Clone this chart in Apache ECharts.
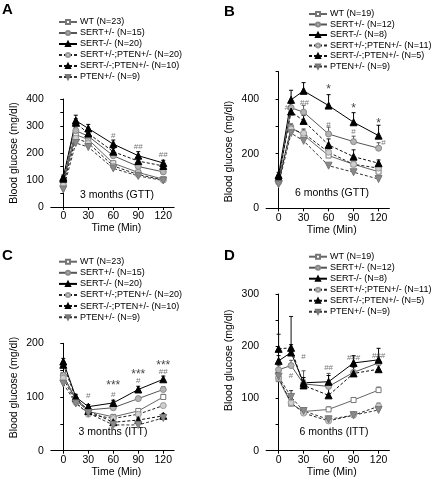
<!DOCTYPE html>
<html><head><meta charset="utf-8">
<script src="https://cdn.jsdelivr.net/npm/echarts@6.0.0/dist/echarts.min.js"></script>
<style>html,body{margin:0;padding:0;background:#fff}#c{width:431px;height:480px}</style>
</head><body><div id="c"></div>
<script>
// ---------- data ----------
const times = [0, 15, 30, 60, 90, 120];
const xTickLabels = [0, 30, 60, 90, 120];

const namesAC = ['WT (N=23)', 'SERT+/- (N=15)', 'SERT-/- (N=20)', 'SERT+/-;PTEN+/- (N=20)', 'SERT-/-;PTEN+/- (N=10)', 'PTEN+/- (N=9)'];
const namesBD = ['WT (N=19)', 'SERT+/- (N=12)', 'SERT-/- (N=8)', 'SERT+/-;PTEN+/- (N=11)', 'SERT-/-;PTEN+/- (N=5)', 'PTEN+/- (N=9)'];

// Panel A: 3 months GTT
const aWT = [90, 268, 250, 162, 128, 103];
const aSERThet = [95, 283, 262, 190, 150, 130];
const aSERTko = [110, 320, 291, 233, 190, 163];
const aSERThetPTEN = [80, 255, 237, 152, 120, 100];
const aSERTkoPTEN = [105, 312, 272, 205, 170, 152];
const aPTEN = [65, 237, 222, 143, 115, 98];
const aWTerr = [5, 10, 10, 8, 6, 5];
const aSERThetErr = [5, 10, 10, 8, 8, 6];
const aSERTkoErr = [8, 20, 15, 15, 15, 10];
const aSERThetPTENerr = [5, 10, 10, 8, 6, 5];
const aSERTkoPTENerr = [8, 15, 12, 12, 12, 8];
const aPTENerr = [5, 8, 8, 6, 5, 5];
const aMarks = [[60, 262, '#'], [90, 222, '##'], [120, 193, '##']];

// Panel B: 6 months GTT
const bWT = [100, 295, 268, 193, 161, 134];
const bSERThet = [105, 368, 352, 272, 244, 220];
const bSERTko = [122, 397, 430, 376, 315, 266];
const bSERThetPTEN = [95, 290, 275, 205, 161, 147];
const bSERTkoPTEN = [112, 354, 320, 232, 189, 165];
const bPTEN = [88, 275, 247, 156, 132, 107];
const bWTerr = [8, 15, 12, 10, 10, 10];
const bSERThetErr = [8, 15, 25, 25, 20, 20];
const bSERTkoErr = [10, 35, 30, 40, 35, 38];
const bSERThetPTENerr = [8, 15, 15, 12, 10, 10];
const bSERTkoPTENerr = [10, 20, 20, 22, 25, 12];
const bPTENerr = [5, 10, 10, 8, 8, 8];
const bMarks = [[10, 368, '#'], [31, 388, '##'], [60, 433, '*'], [60, 307, '#'], [90, 366, '*'], [90, 280, '#'], [120, 311, '*'], [126, 240, '#']];

// Panel C: 3 months ITT
const cWT = [141, 94, 73, 63, 74, 100];
const cSERThet = [140, 96, 76, 80, 97, 114];
const cSERTko = [166, 100, 82, 89, 114, 133];
const cSERThetPTEN = [135, 90, 68, 60, 68, 84];
const cSERTkoPTEN = [160, 98, 74, 53, 57, 65];
const cPTEN = [125, 88, 70, 48, 48, 61];
const cWTerr = [4, 3, 3, 3, 4, 5];
const cSERThetErr = [4, 3, 3, 4, 4, 5];
const cSERTkoErr = [6, 5, 4, 5, 6, 6];
const cSERThetPTENerr = [4, 3, 3, 3, 4, 4];
const cSERTkoPTENerr = [5, 4, 3, 4, 4, 4];
const cPTENerr = [4, 3, 3, 3, 3, 3];
const cMarks = [[30, 102, '#'], [60, 121, '***'], [60, 105, '#'], [90, 141, '***'], [90, 130, '#'], [120, 158, '***'], [120, 147, '##']];

// Panel D: 6 months ITT
const dWT = [137, 90, 75, 79, 97, 116];
const dSERThet = [155, 163, 128, 123, 150, 168];
const dSERTko = [172, 188, 130, 132, 168, 174];
const dSERThetPTEN = [140, 92, 72, 57, 68, 85];
const dSERTkoPTEN = [195, 197, 125, 106, 148, 156];
const dPTEN = [142, 103, 76, 60, 68, 78];
const dWTerr = [5, 5, 4, 5, 5, 6];
const dSERThetErr = [8, 10, 25, 25, 15, 12];
const dSERTkoErr = [10, 15, 10, 12, 14, 22];
const dSERThetPTENerr = [5, 5, 5, 6, 5, 6];
const dSERTkoPTENerr = [28, 60, 10, 18, 12, 12];
const dPTENerr = [6, 12, 5, 6, 6, 6];
const dMarks = [[15, 144, '#'], [30, 179, '#'], [60, 158, '##'], [90, 178, '###'], [120, 182, '###']];

// ---------- styles ----------
const FONT = 'Liberation Sans, Arial, Helvetica, sans-serif';
const styles = [
  {line: '#666', type: 'solid', symbol: 'rect', size: 5, fill: '#fff', border: '#777', rot: 0},
  {line: '#555', type: 'solid', symbol: 'circle', size: 6, fill: '#b4b4b4', border: '#888', rot: 0},
  {line: '#000', type: 'solid', symbol: 'triangle', size: 7, fill: '#000', border: '#000', rot: 0},
  {line: '#222', type: [3, 2], symbol: 'circle', size: 6, fill: '#cfcfcf', border: '#999', rot: 0},
  {line: '#111', type: [3, 2], symbol: 'triangle', size: 7, fill: '#000', border: '#000', rot: 0},
  {line: '#333', type: [3, 2], symbol: 'triangle', size: 7, fill: '#8a8a8a', border: '#777', rot: 180}
];

const panels = [
  {names: namesAC, vals: [aWT, aSERThet, aSERTko, aSERThetPTEN, aSERTkoPTEN, aPTEN],
   errs: [aWTerr, aSERThetErr, aSERTkoErr, aSERThetPTENerr, aSERTkoPTENerr, aPTENerr], marks: aMarks,
   grid: {left: 50.8, top: 99, width: 123.3, height: 108}, yMax: 400, yInt: 50, yLabels: [0, 100, 200, 300, 400],
   legend: {left: 58, top: 17.5, gap: 2}, namePad: [0, 0, 0, 0]},
  {names: namesBD, vals: [bWT, bSERThet, bSERTko, bSERThetPTEN, bSERTkoPTEN, bPTEN],
   errs: [bWTerr, bSERThetErr, bSERTkoErr, bSERThetPTENerr, bSERTkoPTENerr, bPTENerr], marks: bMarks,
   grid: {left: 266.1, top: 71.7, width: 123.3, height: 136.6}, yMax: 500, yInt: 100, yLabels: [0, 200, 400],
   legend: {left: 308, top: 9.5, gap: 1.5}, namePad: [0, 23, 0, 0]},
  {names: namesAC, vals: [cWT, cSERThet, cSERTko, cSERThetPTEN, cSERTkoPTEN, cPTEN],
   errs: [cWTerr, cSERThetErr, cSERTkoErr, cSERThetPTENerr, cSERTkoPTENerr, cPTENerr], marks: cMarks,
   grid: {left: 50.8, top: 343.3, width: 123.3, height: 107.4}, yMax: 200, yInt: 50, yLabels: [0, 100, 200],
   legend: {left: 58, top: 257.2, gap: 2.1}, namePad: [0, 0, 0, 19]},
  {names: namesBD, vals: [dWT, dSERThet, dSERTko, dSERThetPTEN, dSERTkoPTEN, dPTEN],
   errs: [dWTerr, dSERThetErr, dSERTkoErr, dSERThetPTENerr, dSERTkoPTENerr, dPTENerr], marks: dMarks,
   grid: {left: 266.1, top: 294, width: 123.3, height: 156.7}, yMax: 300, yInt: 50, yLabels: [0, 100, 200, 300],
   legend: {left: 308, top: 252.2, gap: 2}, namePad: [0, 0, 0, 24]}
];

const grids = [], xAxes = [], yAxes = [], series = [], legends = [];
panels.forEach((p, pi) => {
  grids.push(Object.assign({containLabel: false}, p.grid));
  xAxes.push({
    type: 'value', gridIndex: pi, min: -15, max: 133,
    name: 'Time (Min)', nameLocation: 'middle', nameGap: 13,
    nameTextStyle: {fontFamily: FONT, fontSize: 10.5, color: '#000', padding: [0, 0, 0, 8]},
    axisLine: {show: true, lineStyle: {color: '#000', width: 1}},
    axisTick: {show: true, length: 3, customValues: xTickLabels, lineStyle: {color: '#000'}},
    axisLabel: {customValues: xTickLabels, margin: 4, fontFamily: FONT, fontSize: 10.5, color: '#000'},
    splitLine: {show: false}
  });
  yAxes.push({
    type: 'value', gridIndex: pi, min: 0, max: p.yMax, interval: p.yInt,
    name: 'Blood glucose (mg/dl)', nameLocation: 'middle', nameGap: 31,
    nameTextStyle: {fontFamily: FONT, fontSize: 10.5, color: '#000', padding: p.namePad},
    axisLine: {show: true, lineStyle: {color: '#000', width: 1}},
    axisTick: {show: true, length: 3, lineStyle: {color: '#000'}},
    axisLabel: {customValues: p.yLabels, margin: 7, fontFamily: FONT, fontSize: 10.5, color: '#000'},
    splitLine: {show: false}
  });
  p.vals.forEach((v, si) => {
    const s = styles[si];
    series.push({
      type: 'custom', name: 'err' + pi + '_' + si, xAxisIndex: pi, yAxisIndex: pi, z: 1,
      data: times.map((t, k) => [t, v[k], p.errs[si][k]]),
      encode: {x: 0, y: 1},
      renderItem: (params, api) => {
        const x = api.value(0), y = api.value(1), e = api.value(2);
        const p0 = api.coord([x, y]), p1 = api.coord([x, y + e]);
        const st = {stroke: s.line === '#666' ? '#777' : s.line, lineWidth: 1};
        return {type: 'group', children: [
          {type: 'line', shape: {x1: p0[0], y1: p0[1], x2: p1[0], y2: p1[1]}, style: st},
          {type: 'line', shape: {x1: p1[0] - 2, y1: p1[1], x2: p1[0] + 2, y2: p1[1]}, style: st}
        ]};
      }
    });
    series.push({
      type: 'line', name: p.names[si], xAxisIndex: pi, yAxisIndex: pi, z: 2,
      data: times.map((t, k) => [t, v[k]]),
      symbol: s.symbol, symbolSize: s.size, symbolRotate: s.rot, showAllSymbol: true,
      lineStyle: {color: s.line, width: 1, type: s.type},
      itemStyle: {color: s.fill, borderColor: s.border, borderWidth: 1},
      emphasis: {disabled: true}
    });
  });
  series.push({
    type: 'scatter', name: 'marks' + pi, xAxisIndex: pi, yAxisIndex: pi, z: 3,
    symbolSize: 1, itemStyle: {color: 'rgba(0,0,0,0)'},
    data: p.marks.map(m => ({value: m, label: {
      fontSize: m[2].indexOf('*') >= 0 ? 12 : 8,
      color: m[2].indexOf('*') >= 0 ? '#111' : '#555'}})),
    label: {show: true, position: 'inside', fontFamily: FONT, formatter: q => q.data.value[2]},
    emphasis: {disabled: true}
  });
  legends.push({
    orient: 'vertical', left: p.legend.left, top: p.legend.top, padding: 0,
    itemWidth: 18, itemHeight: 5, itemGap: p.legend.gap, selectedMode: false,
    textStyle: {fontFamily: FONT, fontSize: 9, color: '#000', lineHeight: 9, padding: [0, 0, 0, -2]},
    data: p.names
  });
});

const insetTexts = [['3 months (GTT)', 117, 195], ['6 months (GTT)', 332, 193], ['3 months (ITT)', 113, 432], ['6 months (ITT)', 334, 432]];
const letters = [['A', 2, 2], ['B', 224, 4], ['C', 2, 248], ['D', 224, 248]];
const graphics = [];
insetTexts.forEach(t => graphics.push({type: 'text', x: t[1], y: t[2], style: {text: t[0], fontFamily: FONT, fontSize: 10.5, fill: '#000', textAlign: 'center', textVerticalAlign: 'middle'}}));
letters.forEach(t => graphics.push({type: 'text', x: t[1], y: t[2], style: {text: t[0], fontFamily: FONT, fontSize: 15, fontWeight: 'bold', fill: '#000'}}));

const chart = echarts.init(document.getElementById('c'), null, {renderer: 'canvas'});
chart.setOption({
  animation: false,
  backgroundColor: '#fff',
  grid: grids, xAxis: xAxes, yAxis: yAxes, series: series, legend: legends, graphic: graphics
});
</script></body></html>
